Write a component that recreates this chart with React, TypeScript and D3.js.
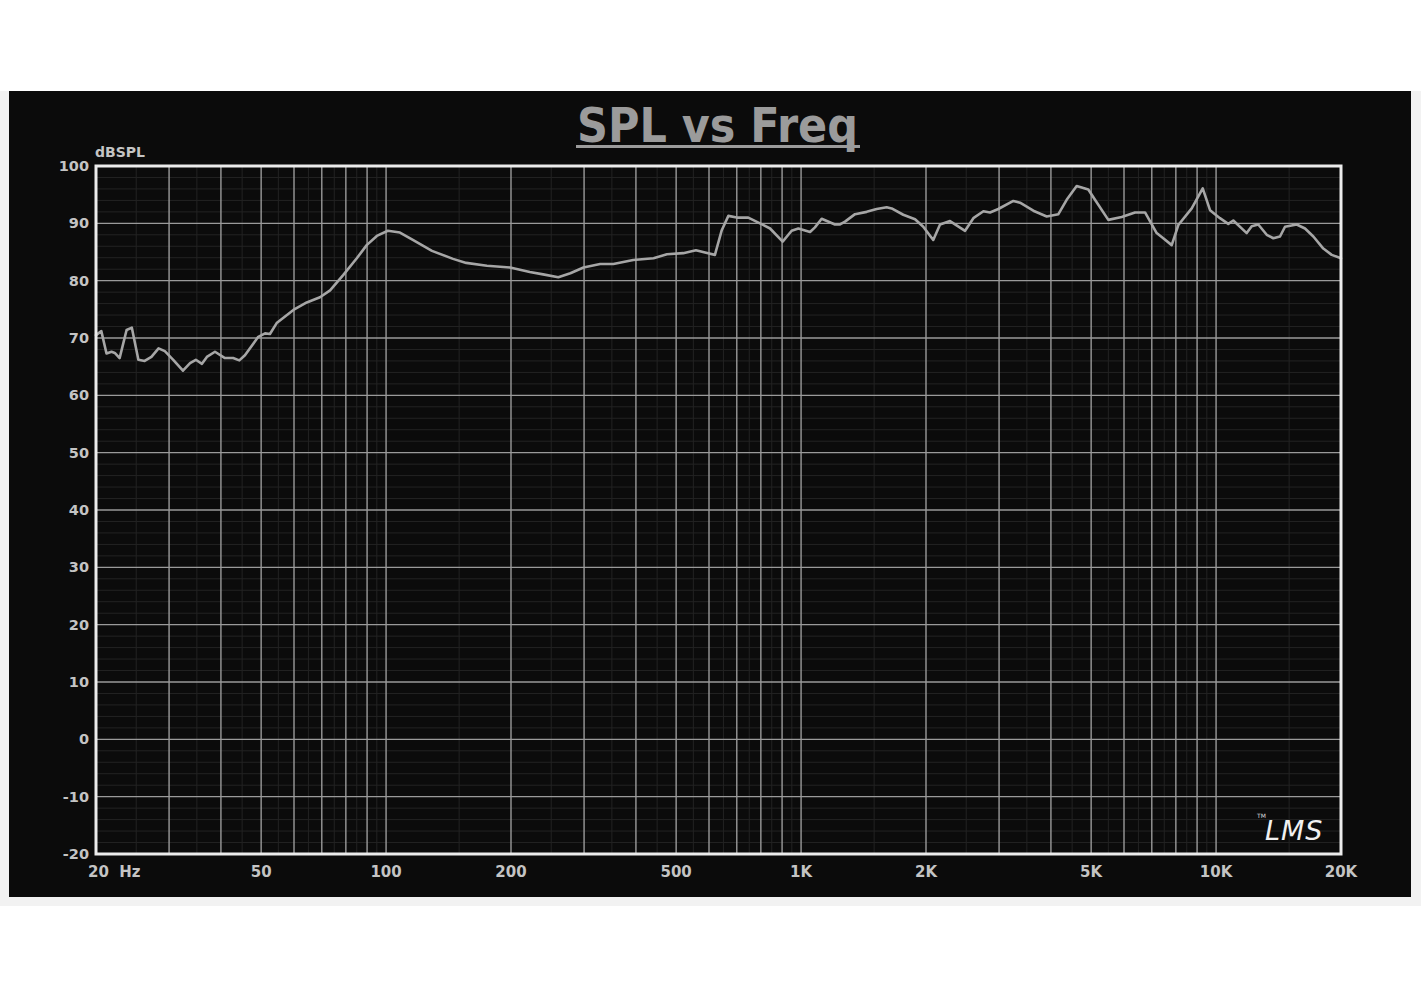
import React from "react";
import * as d3 from "d3";

const freqs = [20, 20.6, 21.2, 21.8, 22.2, 22.8, 23.7, 24.4, 25.3, 26.2, 27.2, 28.3, 29.3, 30.7, 32.4, 33.7, 34.8, 36.0, 37.0, 38.7, 40.9, 42.8, 44.3, 45.7, 49.2, 51.1, 52.5, 54.5, 59.8, 64.4, 69.3, 73.3, 78.9, 85.0, 89.8, 95.0, 101, 108, 116, 129, 145, 156, 175, 199, 222, 239, 260, 278, 299, 328, 353, 394, 441, 475, 520, 558, 587, 620, 644, 668, 700, 746, 796, 842, 903, 949, 985, 1051, 1080, 1121, 1207, 1241, 1276, 1349, 1439, 1521, 1608, 1653, 1763, 1882, 1970, 2082, 2162, 2285, 2484, 2601, 2750, 2853, 2987, 3247, 3370, 3628, 3907, 4169, 4365, 4614, 4922, 5108, 5500, 5924, 6378, 6743, 7192, 7396, 7818, 8110, 8736, 9286, 9670, 10218, 10700, 11003, 11852, 12186, 12640, 13244, 13738, 14257, 14660, 15645, 16381, 17155, 18132, 18996, 20000];
const splValues = [70.5, 71.2, 67.3, 67.6, 67.4, 66.5, 71.4, 71.8, 66.2, 66.0, 66.7, 68.2, 67.7, 66.2, 64.3, 65.6, 66.2, 65.5, 66.7, 67.6, 66.5, 66.5, 66.1, 67.0, 70.2, 70.8, 70.7, 72.6, 74.9, 76.2, 77.1, 78.3, 81.0, 83.9, 86.2, 87.8, 88.7, 88.4, 87.1, 85.2, 83.8, 83.1, 82.6, 82.3, 81.5, 81.1, 80.6, 81.3, 82.3, 82.9, 82.9, 83.6, 83.9, 84.6, 84.8, 85.3, 84.9, 84.5, 88.8, 91.3, 91.0, 91.0, 90.0, 89.1, 86.8, 88.7, 89.1, 88.5, 89.3, 90.8, 89.8, 89.8, 90.3, 91.6, 92.0, 92.5, 92.8, 92.6, 91.5, 90.7, 89.4, 87.1, 89.8, 90.4, 88.7, 90.9, 92.1, 91.9, 92.5, 93.9, 93.6, 92.2, 91.2, 91.6, 94.1, 96.5, 95.9, 94.1, 90.6, 91.1, 91.9, 91.9, 88.3, 87.6, 86.2, 89.7, 92.6, 96.1, 92.3, 90.9, 89.9, 90.5, 88.3, 89.5, 89.8, 88.0, 87.4, 87.7, 89.4, 89.8, 89.1, 87.7, 85.6, 84.5, 83.9];

const yTicks = [100, 90, 80, 70, 60, 50, 40, 30, 20, 10, 0, -10, -20];
const xTickValues = [50, 100, 200, 500, 1000, 2000, 5000, 10000, 20000];
const xTickLabels = ["50", "100", "200", "500", "1K", "2K", "5K", "10K", "20K"];
const firstXLabel = "20  Hz";
const titleText = "SPL vs Freq";
const yUnit = "dBSPL";

const W = 1423;
const H = 997;
const plot = { left: 96, right: 1341, top: 166, bottom: 854 };

export default function App() {
  const x = d3.scaleLog().domain([20, 20000]).range([plot.left, plot.right]);
  const y = d3.scaleLinear().domain([-20, 100]).range([plot.bottom, plot.top]);

  // major vertical grid: every integer multiple in each decade
  const major: number[] = [];
  const minor: number[] = [];
  for (const dec of [10, 100, 1000, 10000]) {
    for (let m = 1; m <= 9; m++) {
      const f = m * dec;
      if (f > 20 && f < 20000) major.push(f);
      const h = (m + 0.5) * dec;
      if (h > 20 && h < 20000 && m < 10) minor.push(h);
    }
  }
  const minorY: number[] = d3.range(-20, 100, 2).filter((v) => v % 10 !== 0);

  const line = d3
    .line<number>()
    .x((_, i) => x(freqs[i]))
    .y((d) => y(d))
    .curve(d3.curveLinear);

  const labelFont = "'DejaVu Sans', Verdana, sans-serif";

  return (
    <svg
      width={W}
      height={H}
      style={{ position: "absolute", left: 0, top: 0, display: "block" }}
    >
      <rect x={0} y={0} width={W} height={H} fill="#ffffff" />
      <rect x={0} y={91} width={1421} height={815} fill="#f2f2f2" />
      <rect x={9} y={91} width={1402} height={806} fill="#0b0b0b" />

      {/* minor grid */}
      <g stroke="#232323" strokeWidth={1}>
        {minorY.map((v) => (
          <line key={"my" + v} x1={plot.left} x2={plot.right} y1={y(v)} y2={y(v)} />
        ))}
        {minor.map((f) => (
          <line key={"mx" + f} x1={x(f)} x2={x(f)} y1={plot.top} y2={plot.bottom} />
        ))}
      </g>

      {/* major grid */}
      <g stroke="#9a9a9a" strokeWidth={1.4}>
        {yTicks.map((v) => (
          <line key={"gy" + v} x1={plot.left} x2={plot.right} y1={y(v)} y2={y(v)} />
        ))}
        {major.map((f) => (
          <line key={"gx" + f} x1={x(f)} x2={x(f)} y1={plot.top} y2={plot.bottom} />
        ))}
      </g>

      {/* curve */}
      <path
        d={line(splValues) || ""}
        fill="none"
        stroke="#a6a6a6"
        strokeWidth={2.6}
        strokeLinejoin="round"
        strokeLinecap="round"
      />

      {/* plot border */}
      <rect
        x={plot.left}
        y={plot.top}
        width={plot.right - plot.left}
        height={plot.bottom - plot.top}
        fill="none"
        stroke="#ececec"
        strokeWidth={3}
      />

      {/* title */}
      <text
        x={577}
        y={142}
        fontFamily={labelFont}
        fontWeight="bold"
        fontSize={48}
        fill="#9b9b9b"
        textLength={281}
        lengthAdjust="spacingAndGlyphs"
      >
        {titleText}
      </text>
      <rect x={576} y={145} width={284} height={3} fill="#9b9b9b" />

      {/* y unit */}
      <text x={95} y={157} fontFamily={labelFont} fontWeight="bold" fontSize={14} fill="#c4c4c4">
        {yUnit}
      </text>

      {/* y tick labels */}
      <g fontFamily={labelFont} fontWeight="bold" fontSize={14.5} fill="#c4c4c4" textAnchor="end">
        {yTicks.map((v) => (
          <text key={"yl" + v} x={89} y={y(v) + 5}>
            {v}
          </text>
        ))}
      </g>

      {/* x tick labels */}
      <g fontFamily={labelFont} fontWeight="bold" fontSize={15} fill="#c4c4c4">
        <text x={88} y={877} style={{ whiteSpace: "pre" }}>
          {firstXLabel}
        </text>
        {xTickValues.map((f, i) => (
          <text key={"xl" + f} x={x(f)} y={877} textAnchor="middle">
            {xTickLabels[i]}
          </text>
        ))}
      </g>

      {/* LMS logo */}
      <text x={1257} y={818} fontFamily={labelFont} fontSize={6} fill="#dddddd">
        TM
      </text>
      <text
        x={1265}
        y={840}
        fontFamily="'DejaVu Sans', sans-serif"
        fontStyle="italic"
        fontSize={27}
        fill="#f0f0f0"
        letterSpacing={1}
      >
        LMS
      </text>
    </svg>
  );
}
